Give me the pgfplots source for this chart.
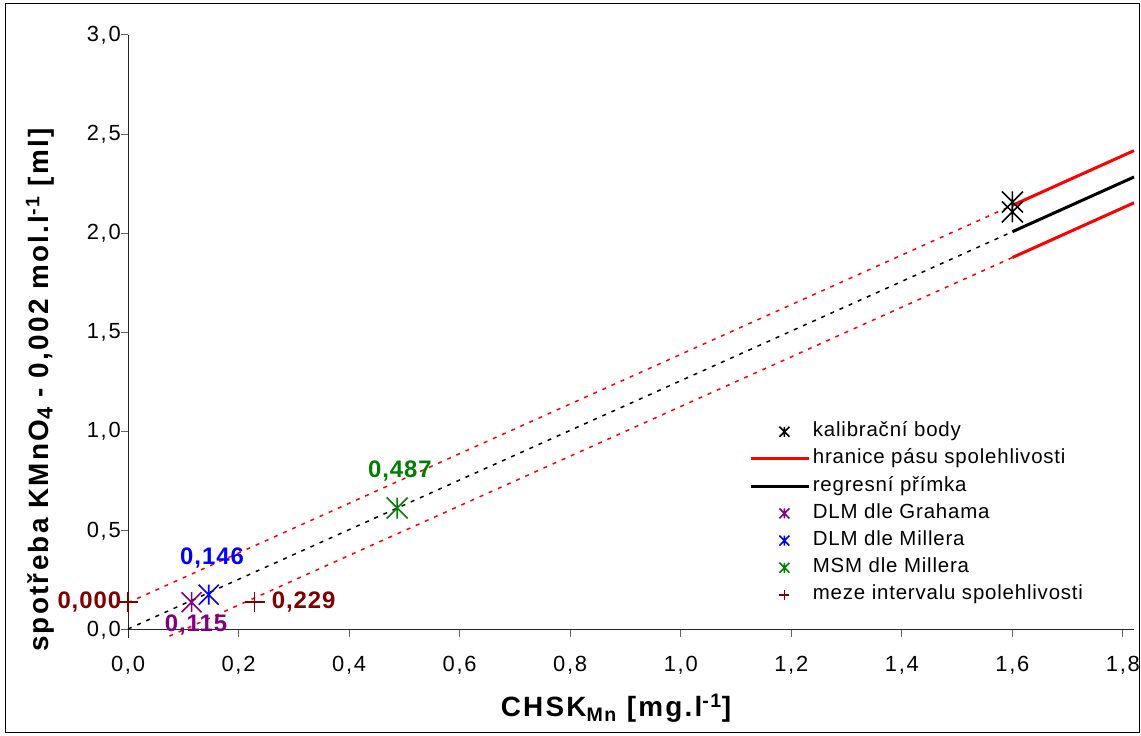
\documentclass[border=0pt]{standalone}
\usepackage{pgfplots}
\pgfplotsset{compat=1.18}
\usepackage{fontspec}
\setmainfont{Liberation Sans}
\setsansfont{Liberation Sans}
\newfontfamily\tickfont{Liberation Sans}[LetterSpace=8]
\newfontfamily\labfont{Liberation Sans}[LetterSpace=8]
\newfontfamily\legfont{Liberation Sans}[LetterSpace=4]
\newfontfamily\valfont{Liberation Sans}[LetterSpace=4]
\definecolor{cpurple}{RGB}{128,0,128}
\definecolor{cblue}{RGB}{0,0,255}
\definecolor{cgreen}{RGB}{0,128,0}
\definecolor{cdarkred}{RGB}{128,0,0}
\definecolor{cred}{RGB}{255,0,0}
\pgfdeclareplotmark{xstar}{%
  \pgfpathmoveto{\pgfqpoint{0pt}{\pgfplotmarksize}}%
  \pgfpathlineto{\pgfqpoint{0pt}{-\pgfplotmarksize}}%
  \pgfpathmoveto{\pgfqpoint{-\pgfplotmarksize}{\pgfplotmarksize}}%
  \pgfpathlineto{\pgfqpoint{\pgfplotmarksize}{-\pgfplotmarksize}}%
  \pgfpathmoveto{\pgfqpoint{-\pgfplotmarksize}{-\pgfplotmarksize}}%
  \pgfpathlineto{\pgfqpoint{\pgfplotmarksize}{\pgfplotmarksize}}%
  \pgfusepathqstroke}
\begin{document}
\begin{tikzpicture}
\useasboundingbox (0,0) rectangle (1141bp,736bp);
\draw[line width=1bp] (5bp,3bp) rectangle (1139bp,732bp);
\begin{axis}[
  at={(128bp,106bp)}, anchor=south west,
  scale only axis, width=1006bp, height=595bp,
  xmin=0, xmax=1.82, ymin=0, ymax=3,
  axis lines=left, axis line style={-, line width=1bp, black!85},
  clip=false,
  xtick={0,0.2,0.4,0.6,0.8,1.0,1.2,1.4,1.6,1.8},
  ytick={0,0.5,1,1.5,2,2.5,3},
  tick align=outside, major tick length=7bp,
  tick style={line width=1bp, black!60},
  ticklabel style={font=\tickfont\fontsize{22}{26}\selectfont, inner sep=2bp},
  xticklabel style={yshift=-17bp},
  yticklabel style={xshift=2bp},
  /pgf/number format/.cd, use comma, fixed, fixed zerofill, precision=1, assume math mode=true,
  /pgfplots/.cd,
  legend style={at={(0.618,0.352)}, anchor=north west, draw=none, fill=none,
    font=\legfont\fontsize{20.5}{24}\selectfont, row sep=5.2bp, inner sep=0pt,
    nodes={inner sep=2bp, text height=14bp, text depth=4bp}},
  legend cell align=left,
  legend image code/.code={\draw[mark repeat=2,mark phase=2,#1] plot coordinates {(0bp,0bp) (33bp,0bp) (58bp,0bp)};},
  legend image post style={mark size=5bp},
]
% short extension of the y axis below zero
\draw[black!85, line width=1bp] (axis cs:0,0) -- (axis cs:0,-0.04);
% dashed extensions (drawn first)
\addplot[forget plot, cred, line width=1.5bp, dash pattern=on 4bp off 6bp] coordinates {(0,0.138) (1.6,2.141)};
\addplot[forget plot, black, line width=1.5bp, dash pattern=on 4bp off 6bp] coordinates {(0,0.005) (1.6,2.008)};
\addplot[forget plot, cred, line width=1.5bp, dash pattern=on 4bp off 6bp] coordinates {(0.075,-0.031) (1.6,1.878)};
% legend series
\addplot[only marks, mark=xstar, mark size=10.5bp, line width=1.6bp, black] coordinates {(1.6,2.108) (1.6,2.158)};
\addlegendentry{kalibrační body}
\addplot[cred, line width=3bp] coordinates {(1.6,2.141) (1.82,2.417)};
\addlegendentry{hranice pásu spolehlivosti}
\addplot[black, line width=3bp] coordinates {(1.6,2.008) (1.82,2.284)};
\addlegendentry{regresní přímka}
\addplot[only marks, mark=xstar, mark size=10bp, line width=1.6bp, cpurple] coordinates {(0.115,0.140)};
\addlegendentry{DLM dle Grahama}
\addplot[only marks, mark=xstar, mark size=10bp, line width=1.6bp, cblue] coordinates {(0.146,0.178)};
\addlegendentry{DLM dle Millera}
\addplot[only marks, mark=xstar, mark size=10.5bp, line width=1.6bp, cgreen] coordinates {(0.487,0.615)};
\addlegendentry{MSM dle Millera}
\addplot[only marks, mark=+, mark size=10bp, line width=1.6bp, cdarkred] coordinates {(0,0.141) (0.229,0.141)};
\addlegendentry{meze intervalu spolehlivosti}
\addplot[forget plot, cred, line width=3bp] coordinates {(1.6,1.878) (1.82,2.154)};
% value labels
\node[font=\valfont\bfseries\fontsize{24}{28}\selectfont, text=cblue] at (axis cs:0.152,0.363) {0,146};
\node[font=\valfont\bfseries\fontsize{24}{28}\selectfont, text=cpurple] at (axis cs:0.123,0.025) {0,115};
\node[font=\valfont\bfseries\fontsize{24}{28}\selectfont, text=cgreen] at (axis cs:0.492,0.80) {0,487};
\node[font=\valfont\bfseries\fontsize{24}{28}\selectfont, text=cdarkred, anchor=east, inner sep=0pt] at (axis cs:-0.012,0.141) {0,000};
\node[font=\valfont\bfseries\fontsize{24}{28}\selectfont, text=cdarkred, anchor=west, inner sep=0pt] at (axis cs:0.260,0.141) {0,229};
\end{axis}
\node[font=\labfont\bfseries\fontsize{28}{32}\selectfont] at (616bp,28bp) {CHSK\textsubscript{Mn} [mg.l\textsuperscript{-1}]};
\node[rotate=90, font=\labfont\bfseries\fontsize{28}{32}\selectfont] at (40bp,346bp) {spotřeba KMnO\raisebox{-0.15em}{\fontsize{22}{22}\selectfont 4} - 0,002 mol.l\textsuperscript{-1} [ml]};
\end{tikzpicture}
\end{document}
